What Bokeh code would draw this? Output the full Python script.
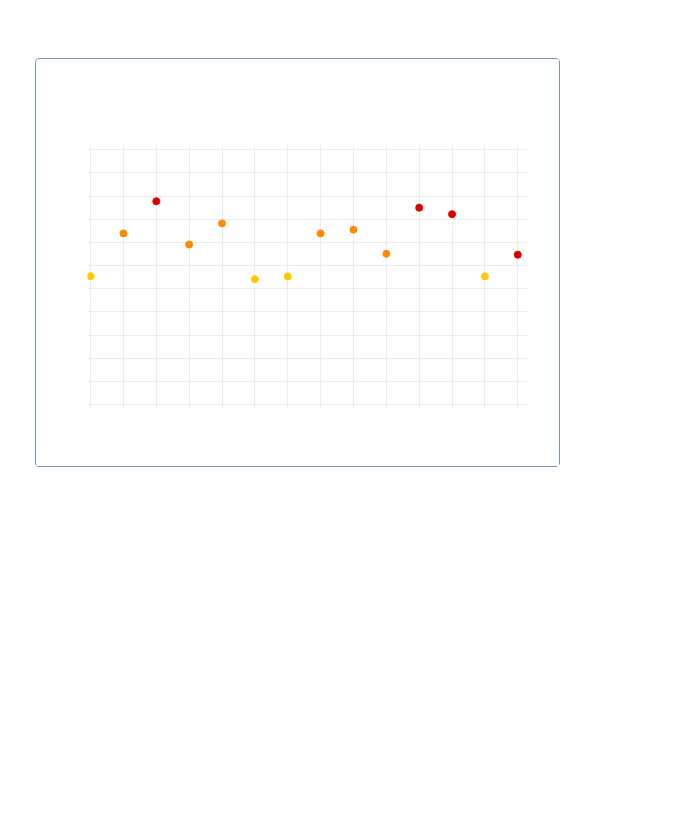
from bokeh.plotting import figure
from bokeh.models import Range1d, FixedTicker
from bokeh.embed import file_html
from bokeh.resources import INLINE

# data
x_idx = list(range(14))
values = [55.4, 73.9, 87.8, 69.1, 78.2, 54.1, 55.3, 73.9, 75.5, 65.1, 85.0, 82.2, 55.3, 64.7]
levels = ["low", "mid", "high", "mid", "mid", "low", "low", "mid", "mid", "mid", "high", "high", "low", "high"]
level_colors = {"low": "#ffc800", "mid": "#ff8c00", "high": "#e00000"}
y_ticks = [0, 10, 20, 30, 40, 50, 60, 70, 80, 90, 100, 110]

colors = [level_colors[l] for l in levels]

p = figure(width=525, height=409, output_backend="svg", toolbar_location=None,
           x_range=Range1d(-0.094, 13.296), y_range=Range1d(-2.16, 111.86),
           min_border_left=51, min_border_right=34, min_border_top=86, min_border_bottom=59)
p.styles = {"margin-left": "35px", "margin-top": "58px",
            "border": "1px solid #6f9aab", "border-radius": "4px"}
p.xaxis.visible = False
p.yaxis.visible = False
p.xgrid.ticker = FixedTicker(ticks=x_idx)
p.ygrid.ticker = FixedTicker(ticks=y_ticks)
p.xgrid.grid_line_color = "#ececec"
p.ygrid.grid_line_color = "#ececec"
p.outline_line_color = None

p.scatter(x_idx, values, size=7, fill_color=colors, line_color=colors)

open("out.html", "w").write(file_html(p, INLINE))
